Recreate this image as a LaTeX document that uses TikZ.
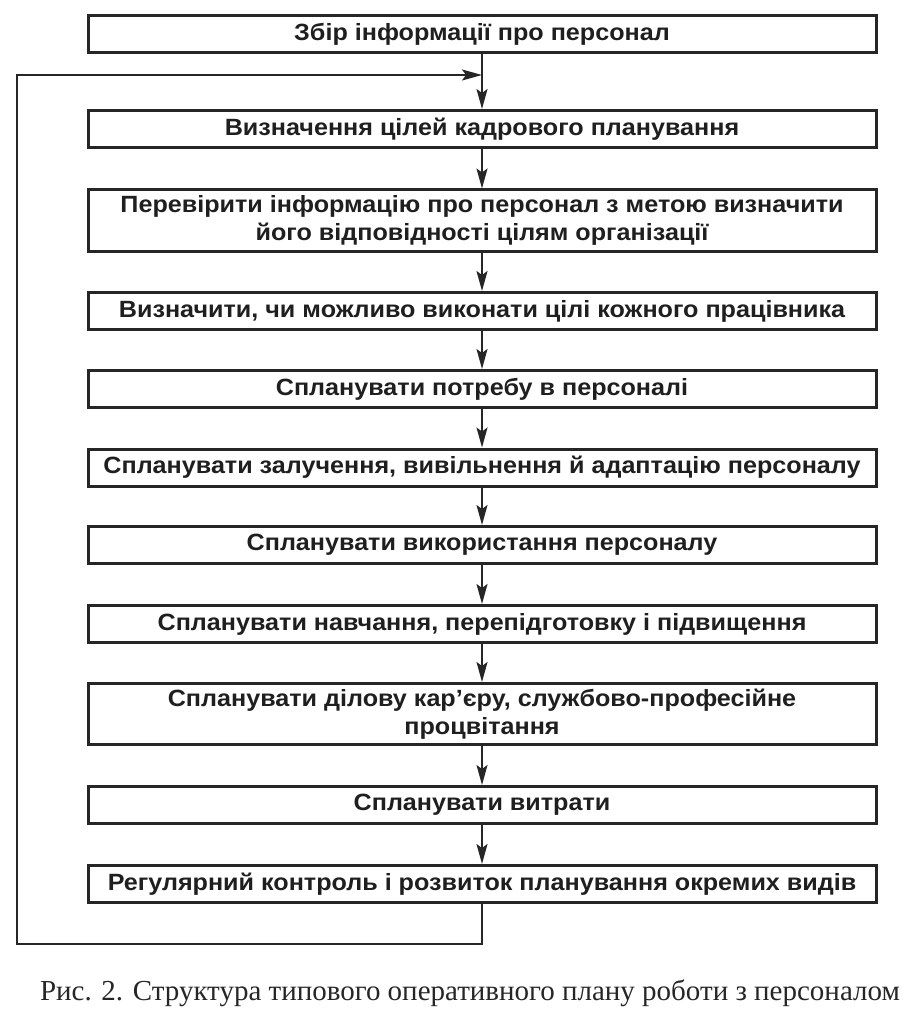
\documentclass[tikz,border=0pt]{standalone}
\usepackage{fontspec}
\setmainfont{Liberation Serif}
\newfontfamily\boxfont{Liberation Sans}[FakeStretch=1.07]
\usetikzlibrary{arrows.meta}
\tikzset{
  stagebox/.style={draw=black!85, line width=3pt, fill=white, minimum width=788pt,
    inner sep=0pt, align=center, font=\boxfont\bfseries\fontsize{23.5}{28}\selectfont, text=black!88},
  single/.style={minimum height=37pt},
  double/.style={minimum height=61pt},
  flow/.style={draw=black!85, line width=2pt, -{Stealth[length=20pt,width=11pt,inset=4pt]}}
}
\begin{document}
\begin{tikzpicture}[x=1pt,y=-1pt]
\useasboundingbox (0,0) rectangle (919,1016);
\node[stagebox,single] (b1) at (482,34) {Збір інформації про персонал};
\node[stagebox,single] (b2) at (482,129) {Визначення цілей кадрового планування};
\node[stagebox,double] (b3) at (482,220.5) {Перевірити інформацію про персонал з метою визначити\\його відповідності цілям організації};
\node[stagebox,single] (b4) at (482,311) {Визначити, чи можливо виконати цілі кожного працівника};
\node[stagebox,single] (b5) at (482,389) {Спланувати потребу в персоналі};
\node[stagebox,single] (b6) at (482,467.5) {Спланувати залучення, вивільнення й адаптацію персоналу};
\node[stagebox,single] (b7) at (482,545) {Спланувати використання персоналу};
\node[stagebox,single] (b8) at (482,624) {Спланувати навчання, перепідготовку і підвищення};
\node[stagebox,double] (b9) at (482,714) {Спланувати ділову кар’єру, службово-професійне\\процвітання};
\node[stagebox,single] (b10) at (482,805) {Спланувати витрати};
\node[stagebox,single] (b11) at (482,884) {Регулярний контроль і розвиток планування окремих видів};
\coordinate (m12) at (482,75);
\coordinate (c1) at (482,944);
\coordinate (c2) at (17,944);
\coordinate (c3) at (17,75);
\draw[flow] (b1) -- (b2);
\draw[flow] (b2) -- (b3);
\draw[flow] (b3) -- (b4);
\draw[flow] (b4) -- (b5);
\draw[flow] (b5) -- (b6);
\draw[flow] (b6) -- (b7);
\draw[flow] (b7) -- (b8);
\draw[flow] (b8) -- (b9);
\draw[flow] (b9) -- (b10);
\draw[flow] (b10) -- (b11);
\draw[flow] (b11.south) -- (c1) -- (c2) -- (c3) -- (m12);
\node[font=\fontsize{29}{34}\selectfont, text=black!85] (cap) at (470,993) {Рис. 2. Структура типового оперативного плану роботи з персоналом};
\end{tikzpicture}
\end{document}
